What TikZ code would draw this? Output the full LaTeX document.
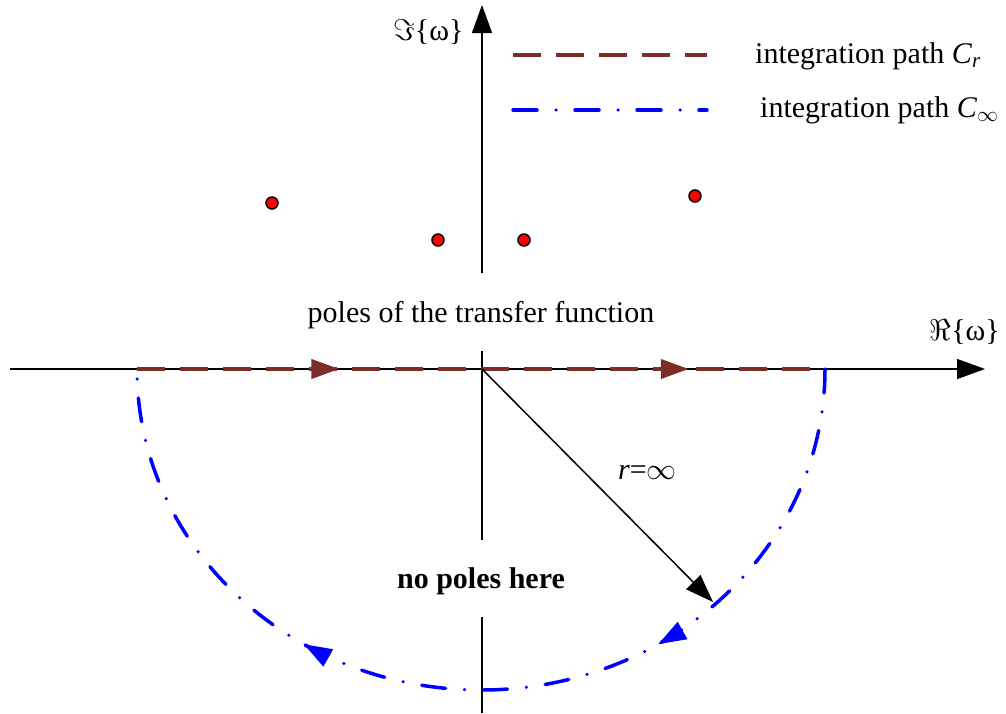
\RequirePackage{fix-cm}
\documentclass[tikz,border=0pt]{standalone}
\usepackage{fontspec}
\setmainfont{LiberationSerif}[Extension=.ttf,UprightFont=*-Regular,ItalicFont=*-Italic,BoldFont=*-Bold]
\usetikzlibrary{arrows.meta,decorations.markings}
\definecolor{pathred}{RGB}{125,45,40}
\tikzset{
  bigtip/.style={-{Triangle[length=28pt,width=20pt]}},
  axis/.style={line width=1.5pt,black},
  pathCr/.style={line width=4pt,pathred,dash pattern=on 28pt off 15pt},
  pathCinf/.style={line width=3.5pt,blue,line cap=round,dash pattern=on 24pt off 19pt on 0pt off 19pt},
  pole/.style={circle,draw=black,fill=red,line width=1.5pt,minimum size=12pt,inner sep=0pt},
  lbl/.style={font=\fontsize{30}{36}\selectfont,inner sep=0pt},
}
\begin{document}
\begin{tikzpicture}[x=1pt,y=-1pt]
\useasboundingbox (0,0) rectangle (1006,713);
\coordinate (O) at (482,369);
\coordinate (xl) at (10,369);
\coordinate (xr) at (985,369);
\coordinate (ytop) at (482,5);
\coordinate (ya) at (482,273);
\coordinate (yb) at (482,351);
\coordinate (yc) at (482,540);
\coordinate (yd) at (482,617);
\coordinate (ye) at (482,713);
\coordinate (Cl) at (137,369);
\coordinate (Cr) at (825,369);
\coordinate (rtip) at (713,602);

% axes
\draw[axis,bigtip] (xl) -- (xr);
\draw[axis,bigtip] (ya) -- (ytop);
\draw[axis] (yb) -- (yc);
\draw[axis] (yd) -- (ye);
\node[lbl,anchor=base west] (imag) at (393,40) {$\Im$\{ω\}};
\node[lbl,anchor=base east] (real) at (1000,340) {$\Re$\{ω\}};

% integration paths
\draw[pathCr,postaction={decorate,decoration={markings,
    mark=at position 0.294 with {\arrow{Triangle[length=28pt,width=19pt]}},
    mark=at position 0.802 with {\arrow{Triangle[length=28pt,width=19pt]}}}}]
  (Cl) -- (Cr);
\draw[pathCinf,postaction={decorate,decoration={markings,
    mark=at position 0.323 with {\arrow{Triangle[length=28pt,width=19pt]}},
    mark=at position 0.677 with {\arrow{Triangle[length=28pt,width=19pt]}}}}]
  (Cr) arc[start angle=0,end angle=180,x radius=344,y radius=321];
\draw[axis,bigtip] (O) -- (rtip);
\node[lbl,anchor=base west] (rlab) at (618,479) {\textit{r}=$\infty$};

% poles
\node[pole] (p1) at (272,203) {};
\node[pole] (p2) at (438,240) {};
\node[pole] (p3) at (524,240) {};
\node[pole] (p4) at (695,196) {};
\node[lbl,anchor=base] (poles) at (481,322) {poles of the transfer function};
\node[lbl,anchor=base,font=\fontsize{30}{36}\selectfont\bfseries] (nopoles) at (481,588) {no poles here};

% legend
\coordinate (la) at (513,55);
\coordinate (lb) at (707,55);
\coordinate (lc) at (513,110);
\coordinate (ld) at (707,110);
\draw[pathCr] (la) -- (lb);
\draw[pathCinf] (lc) -- (ld);
\node[lbl,anchor=base west] (legCr) at (755,63) {integration path \textit{C}\textsubscript{\textit{r}}};
\node[lbl,anchor=base west] (legCinf) at (760,117) {integration path \textit{C}\textsubscript{$\infty$}};
\end{tikzpicture}
\end{document}
